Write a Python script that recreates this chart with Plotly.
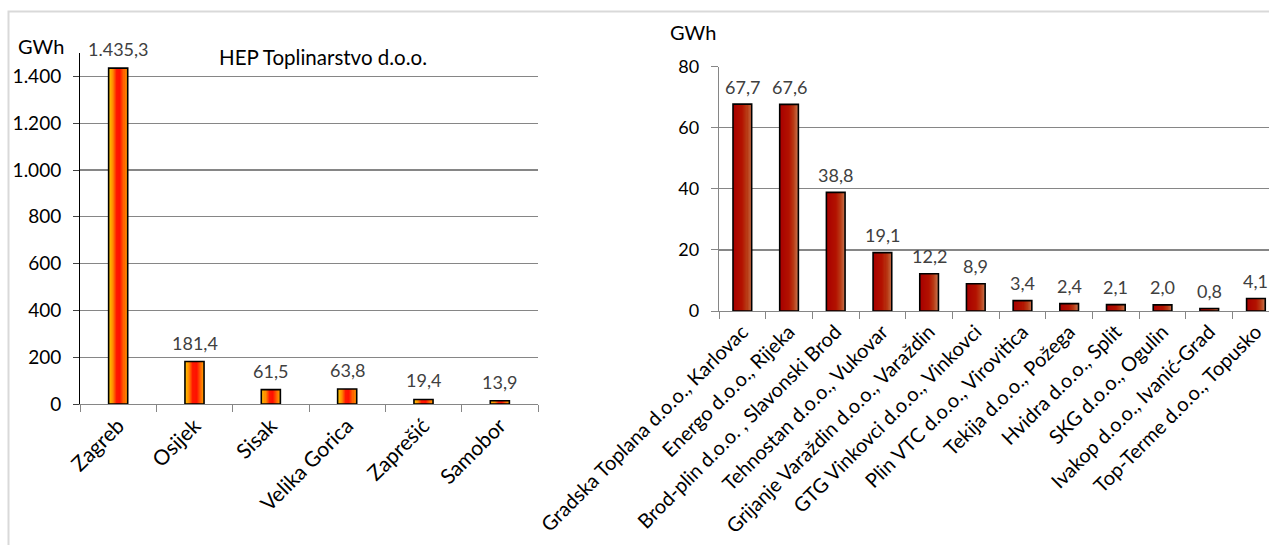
import plotly.graph_objects as go

# ---------------- data ----------------
hep_cities = ["Zagreb", "Osijek", "Sisak", "Velika Gorica", "Zaprešić", "Samobor"]
hep_values = [1435.3, 181.4, 61.5, 63.8, 19.4, 13.9]
hep_yticks = [0, 200, 400, 600, 800, 1000, 1200, 1400]

other_companies = [
    "Gradska Toplana d.o.o., Karlovac",
    "Energo d.o.o., Rijeka",
    "Brod-plin d.o.o. , Slavonski Brod",
    "Tehnostan d.o.o., Vukovar",
    "Grijanje Varaždin d.o.o., Varaždin",
    "GTG Vinkovci d.o.o., Vinkovci",
    "Plin VTC d.o.o., Virovitica",
    "Tekija d.o.o., Požega",
    "Hvidra d.o.o., Split",
    "SKG d.o.o., Ogulin",
    "Ivakop d.o.o., Ivanić-Grad",
    "Top-Terme d.o.o., Topusko",
]
other_values = [67.7, 67.6, 38.8, 19.1, 12.2, 8.9, 3.4, 2.4, 2.1, 2.0, 0.8, 4.1]
other_yticks = [0, 20, 40, 60, 80]

FONT = "Lato"
W, H = 1269, 545


def fmt_hr(v, dec=1):
    s = f"{v:,.{dec}f}"
    return s.replace(",", "X").replace(".", ",").replace("X", ".")


def hex2rgb(h):
    h = h.lstrip("#")
    return tuple(int(h[i:i + 2], 16) for i in (0, 2, 4))


def interp(stops, t):
    for (t0, c0), (t1, c1) in zip(stops[:-1], stops[1:]):
        if t0 <= t <= t1:
            f = (t - t0) / (t1 - t0) if t1 > t0 else 0
            a, b = hex2rgb(c0), hex2rgb(c1)
            r = [round(a[k] + (b[k] - a[k]) * f) for k in range(3)]
            return f"rgb({r[0]},{r[1]},{r[2]})"
    return stops[-1][1]


fig = go.Figure()


def gradient_bars(x, y, width, stops, xa, ya, n=18):
    for i in range(n):
        t = (i + 0.5) / n
        fig.add_trace(go.Bar(
            x=x, y=y, xaxis=xa, yaxis=ya,
            width=width / n + 0.004, offset=-width / 2 + i * width / n,
            marker=dict(color=interp(stops, t), line=dict(width=0)),
            showlegend=False, hoverinfo="skip",
        ))
    fig.add_trace(go.Bar(
        x=x, y=y, xaxis=xa, yaxis=ya, width=width, offset=-width / 2,
        marker=dict(color="rgba(0,0,0,0)", line=dict(color="#000000", width=1.6)),
        showlegend=False,
    ))


left_stops = [(0, "#FFC800"), (0.22, "#FF8A00"), (0.42, "#FF1800"),
              (0.6, "#FF1000"), (0.82, "#FF6A00"), (1, "#FFA800")]
right_stops = [(0, "#A80000"), (0.5, "#B31200"), (0.75, "#B83A14"), (1, "#C8744E")]

gradient_bars(hep_cities, hep_values, 0.25, left_stops, "x", "y")
gradient_bars(other_companies, other_values, 0.40, right_stops, "x2", "y2")

# data labels
annots = []
for c, v in zip(hep_cities, hep_values):
    annots.append(dict(x=c, y=v, xref="x", yref="y", text=fmt_hr(v), showarrow=False,
                       yanchor="middle", yshift=19,
                       font=dict(family=FONT, size=18, color="#404040")))
for c, v in zip(other_companies, other_values):
    annots.append(dict(x=c, y=v, xref="x2", yref="y2", text=fmt_hr(v), showarrow=False,
                       yanchor="middle", yshift=17.5,
                       font=dict(family=FONT, size=18, color="#404040")))

annots += [
    dict(x=41 / W, y=1 - 46 / H, xref="paper", yref="paper", text="GWh", showarrow=False,
         xanchor="center", yanchor="middle", font=dict(family=FONT, size=20, color="#000")),
    dict(x=693 / W, y=1 - 32 / H, xref="paper", yref="paper", text="GWh", showarrow=False,
         xanchor="center", yanchor="middle", font=dict(family=FONT, size=20, color="#000")),
    dict(x=323 / W, y=1 - 57 / H, xref="paper", yref="paper", text="HEP Toplinarstvo d.o.o.",
         showarrow=False, xanchor="center", yanchor="middle",
         font=dict(family=FONT, size=20.5, color="#000")),
]

axis_common = dict(showgrid=False, zeroline=False, automargin=False, fixedrange=True)

fig.update_layout(
    width=W, height=H,
    margin=dict(l=0, r=0, t=0, b=0),
    paper_bgcolor="white", plot_bgcolor="white",
    barmode="overlay", bargap=0,
    font=dict(family=FONT, color="#000"),
    annotations=annots,
    showlegend=False,
    hovermode=False,
    xaxis=dict(domain=[80 / W, 538 / W], type="category", range=[-0.5, 5.5],
               showline=True, linecolor="#868686", linewidth=1.3,
               ticks="outside", tickson="boundaries", ticklen=7, tickcolor="#868686",
               tickangle=-45, tickfont=dict(family=FONT, size=21, color="#000"),
               anchor="y", **axis_common),
    yaxis=dict(domain=[(H - 404) / H, (H - 53) / H], range=[0, 1500],
               tickvals=hep_yticks, ticktext=[fmt_hr(v, 0) for v in hep_yticks],
               showline=True, linecolor="#000000", linewidth=1,
               ticks="outside", ticklen=6, tickcolor="#404040",
               ticklabelstandoff=8,
               tickfont=dict(family=FONT, size=19, color="#000"),
               anchor="x", **{**axis_common, "showgrid": True},
               gridcolor="#868686", gridwidth=1.3),
    xaxis2=dict(domain=[719 / W, 1.0], type="category", range=[-0.5, 11.28],
                showline=True, linecolor="#868686", linewidth=1.3,
                ticks="outside", tickson="boundaries", ticklen=7, tickcolor="#868686",
                tickangle=-45, tickfont=dict(family=FONT, size=20, color="#000"),
                anchor="y2", **axis_common),
    yaxis2=dict(domain=[(H - 311) / H, (H - 66.5) / H], range=[0, 80],
                tickvals=other_yticks, ticktext=[str(v) for v in other_yticks],
                showline=True, linecolor="#868686", linewidth=1.3,
                ticks="outside", ticklen=7, tickcolor="#868686",
                ticklabelstandoff=8,
                tickfont=dict(family=FONT, size=18, color="#000"),
                anchor="x2", **{**axis_common, "showgrid": True},
                gridcolor="#868686", gridwidth=1.3),
    shapes=[dict(type="rect", xref="paper", yref="paper",
                 x0=8.5 / W, x1=1.02, y0=-0.02, y1=1 - 11.5 / H,
                 line=dict(color="#D9D9D9", width=2), fillcolor="rgba(0,0,0,0)",
                 layer="below")],
)

fig.write_html("out.html", config={"displayModeBar": False, "staticPlot": True},
               post_script="document.body.style.margin='0';document.body.style.overflow='hidden';")
